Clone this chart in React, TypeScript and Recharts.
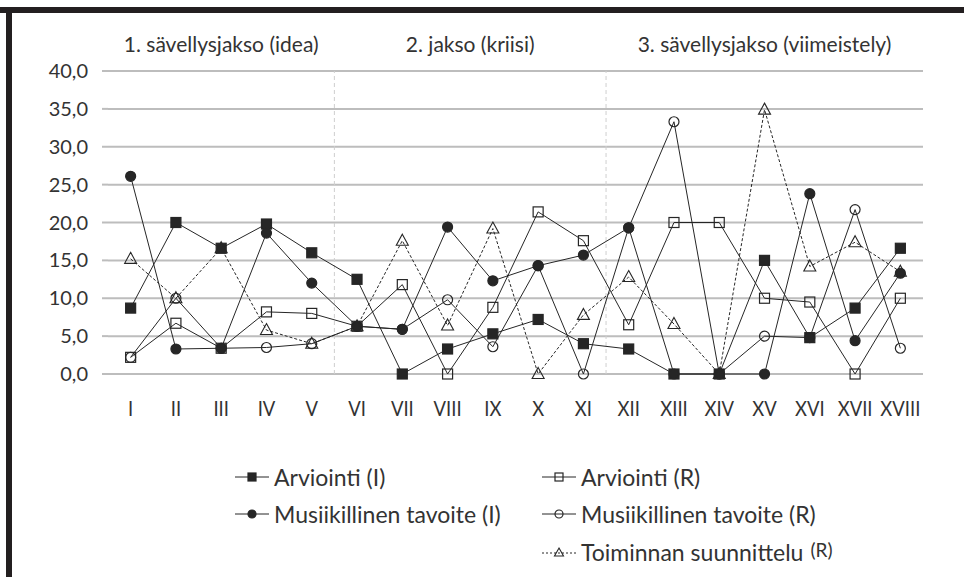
import React from "react";
import { LineChart, Line, XAxis, YAxis, CartesianGrid, ReferenceLine, ReferenceArea } from "recharts";

// kokoamisvaiheet I–XVIII
const categories = ["I", "II", "III", "IV", "V", "VI", "VII", "VIII", "IX", "X", "XI", "XII", "XIII", "XIV", "XV", "XVI", "XVII", "XVIII"];
const yTicks = [0, 5, 10, 15, 20, 25, 30, 35, 40];

const phases = [
  { label: "1. sävellysjakso (idea)", from: 0.5, to: 5.5 },
  { label: "2. jakso (kriisi)", from: 5.5, to: 11.5 },
  { label: "3. sävellysjakso (viimeistely)", from: 11.5, to: 18.5 },
];
const phaseBreaks = [5.5, 11.5];

const arviointiI = [8.7, 20.0, 16.6, 19.8, 16.0, 12.5, 0, 3.3, 5.3, 7.2, 4.0, 3.3, 0, 0, 15.0, 4.8, 8.7, 16.6];
const arviointiR = [2.2, 6.7, 3.4, 8.2, 8.0, 6.3, 11.8, 0, 8.8, 21.4, 17.6, 6.5, 20.0, 20.0, 10.0, 9.5, 0, 10.0];
const tavoiteI = [26.1, 3.3, 3.4, 18.6, 12.0, 6.3, 5.9, 19.4, 12.3, 14.3, 15.7, 19.3, 0, 0, 0, 23.8, 4.4, 13.3];
const tavoiteR = [2.2, 10.0, 3.4, 3.5, 4.0, 6.3, 5.9, 9.8, 3.6, 14.3, 0, 19.3, 33.3, 0, 5.0, 4.8, 21.7, 3.4];
const suunnitteluR = [15.2, 10.0, 16.6, 5.8, 4.0, 6.3, 17.6, 6.4, 19.2, 0, 7.8, 12.8, 6.6, 0, 34.9, 14.2, 17.4, 13.5];

const INK = "#262626";
const GRID = "#bdbdbd";
const FONT = "Lato, 'Open Sans', sans-serif";

const series = [
  { key: "arvI", name: "Arviointi (I)", values: arviointiI, shape: "square", filled: true, dashed: false },
  { key: "arvR", name: "Arviointi (R)", values: arviointiR, shape: "square", filled: false, dashed: false },
  { key: "musI", name: "Musiikillinen tavoite (I)", values: tavoiteI, shape: "circle", filled: true, dashed: false },
  { key: "musR", name: "Musiikillinen tavoite (R)", values: tavoiteR, shape: "circle", filled: false, dashed: false },
  { key: "toim", name: "Toiminnan suunnittelu", values: suunnitteluR, shape: "triangle", filled: false, dashed: true },
];

const data = categories.map((cat, i) => {
  const row: any = { pos: i + 1, cat };
  series.forEach((s) => (row[s.key] = s.values[i]));
  return row;
});

function Marker({ cx, cy, shape, filled, size }: any) {
  if (cx == null || cy == null) return null;
  const fill = filled ? INK : "none";
  const h = size / 2;
  if (shape === "square")
    return <rect x={cx - h} y={cy - h} width={size} height={size} fill={fill} stroke={INK} strokeWidth={1.2} />;
  if (shape === "circle") return <circle cx={cx} cy={cy} r={h} fill={fill} stroke={INK} strokeWidth={1.2} />;
  const pts = `${cx},${cy - h - 1} ${cx + h + 0.5},${cy + h - 1} ${cx - h - 0.5},${cy + h - 1}`;
  return <polygon points={pts} fill={fill} stroke={INK} strokeWidth={1.1} />;
}

// roomalaiset numerot vähän kapeampina, kuten alkuperäisessä
function RomanTick({ x, y, payload }: any) {
  return (
    <g transform={`translate(${x},${y}) scale(0.84,1)`}>
      <text textAnchor="middle" dy="0.36em" fontSize={22} fill="#333">
        {categories[payload.value - 1]}
      </text>
    </g>
  );
}

function LegendItem({ s }: any) {
  return (
    <div style={{ display: "flex", alignItems: "center", height: 26 }}>
      <svg width={36} height={20} style={{ marginRight: 3 }}>
        <line x1={0} y1={10} x2={34} y2={10} stroke={INK} strokeWidth={1} strokeDasharray={s.dashed ? "2 2" : undefined} />
        <Marker cx={17} cy={10} shape={s.shape} filled={s.filled} size={8} />
      </svg>
      <span>
        {s.name}
        {s.key === "toim" && <span style={{ fontSize: 19, position: "relative", top: -4, marginLeft: 7 }}>(R)</span>}
      </span>
    </div>
  );
}

export default function App() {
  const col1 = series.filter((s) => s.key === "arvI" || s.key === "musI");
  const col2 = series.filter((s) => s.key !== "arvI" && s.key !== "musI");
  return (
    <div style={{ position: "absolute", left: 0, top: 0, width: 964, height: 577, background: "#fff", fontFamily: FONT, color: "#333", overflow: "hidden" }}>
      <div style={{ position: "absolute", left: 0, top: 7, width: 964, height: 6, background: "#231f20" }} />
      <div style={{ position: "absolute", left: 6, top: 7, width: 6, height: 570, background: "#231f20" }} />
      <LineChart width={964} height={577} data={data} margin={{ top: 71, right: 41, left: 8, bottom: 163 }}>
        <CartesianGrid vertical={false} stroke={GRID} strokeWidth={2} xAxisId="x" />
        <XAxis
          xAxisId="t"
          dataKey="pos"
          type="number"
          domain={[0.5, 18.5]}
          ticks={categories.map((_, i) => i + 0.5).concat([18.5])}
          tick={false}
          tickSize={7}
          height={0}
          stroke={GRID}
          axisLine={{ stroke: GRID, strokeWidth: 2 }}
          tickLine={{ stroke: GRID, strokeWidth: 1.5 }}
        />
        <XAxis
          xAxisId="x"
          dataKey="pos"
          type="number"
          domain={[0.5, 18.5]}
          ticks={categories.map((_, i) => i + 1)}
          axisLine={false}
          tickLine={false}
          tickSize={0}
          tickMargin={34}
          height={40}
          interval={0}
          tick={<RomanTick />}
        />
        <YAxis
          domain={[0, 40]}
          ticks={yTicks}
          width={100}
          axisLine={false}
          tickLine={{ stroke: GRID, strokeWidth: 2 }}
          tickSize={6}
          tickMargin={14}
          tickFormatter={(v: number) => v.toFixed(1).replace(".", ",")}
          tick={{ fill: "#333", fontSize: 20 }}
        />
        {phases.map((p) => (
          <ReferenceArea
            key={p.label}
            xAxisId="x"
            x1={p.from}
            x2={p.to}
            fill="none"
            fillOpacity={0}
            stroke="none"
            ifOverflow="visible"
            label={{ value: p.label, position: "top", offset: 19, fill: "#333", fontSize: 21 }}
          />
        ))}
        {phaseBreaks.map((x) => (
          <ReferenceLine key={x} xAxisId="x" x={x} stroke="#cfcfcf" strokeDasharray="4 3" strokeWidth={1} />
        ))}
        {series.map((s) => (
          <Line
            key={s.key}
            xAxisId="x"
            dataKey={s.key}
            name={s.name}
            stroke={INK}
            strokeWidth={1}
            strokeDasharray={s.dashed ? "3 2" : undefined}
            isAnimationActive={false}
            dot={(p: any) => <Marker key={`${s.key}-${p.index}`} cx={p.cx} cy={p.cy} shape={s.shape} filled={s.filled} size={s.shape === "triangle" ? 11 : 10} />}
            activeDot={false}
          />
        ))}
      </LineChart>
      <div style={{ position: "absolute", left: 235, top: 464, fontSize: 23, lineHeight: "26px" }}>
        {col1.map((s, i) => (
          <div key={s.key} style={{ marginBottom: i === 0 ? 11 : 0 }}>
            <LegendItem s={s} />
          </div>
        ))}
      </div>
      <div style={{ position: "absolute", left: 542, top: 464, fontSize: 23, lineHeight: "26px" }}>
        {col2.map((s, i) => (
          <div key={s.key} style={{ marginBottom: i === 0 ? 11 : 13 }}>
            <LegendItem s={s} />
          </div>
        ))}
      </div>
    </div>
  );
}
